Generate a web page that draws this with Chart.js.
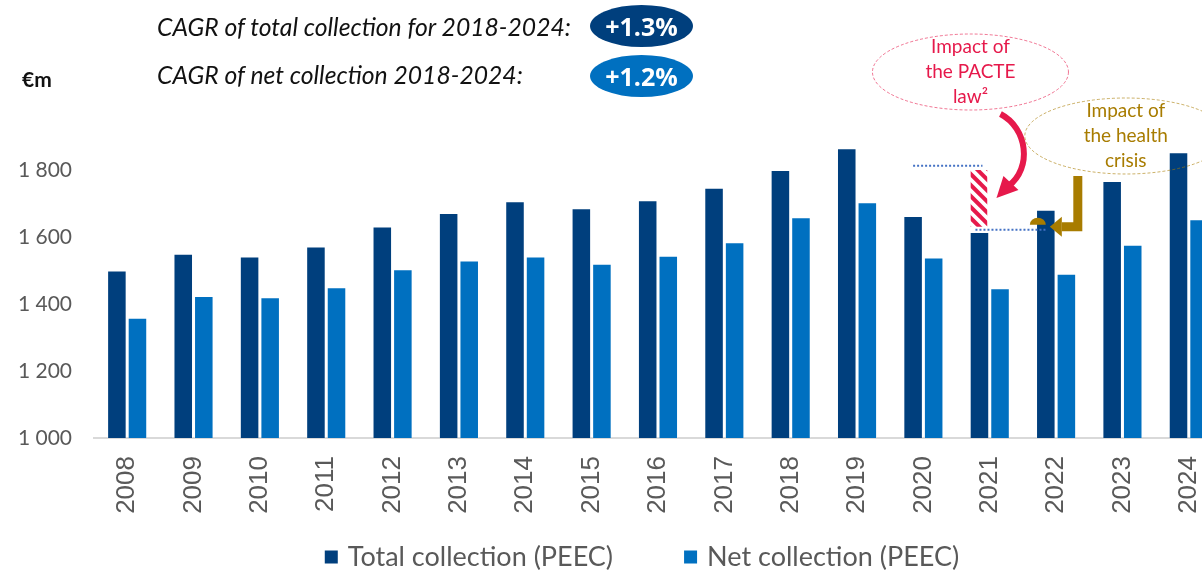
<!DOCTYPE html>
<html>
<head>
<meta charset="utf-8">
<script src="https://cdn.jsdelivr.net/npm/chart.js@4.4.1/dist/chart.umd.min.js"></script>
<style>
  body { margin: 0; width: 1202px; height: 571px; overflow: hidden; background: #fff; font-family: Lato, sans-serif; }
  #wrap { position: relative; width: 1238px; height: 571px; }
  #wrap canvas { position: absolute; left: 0; top: 0; }
  .cagr { position: absolute; left: 157px; font-style: italic; font-size: 24.7px; color: #111; white-space: nowrap; }
  .pill { position: absolute; left: 590px; width: 103px; border-radius: 50%; color: #fff; font-weight: bold;
          font-size: 25px; text-align: center; font-family: "Open Sans", sans-serif; }
  .unit { position: absolute; left: 22px; top: 66px; font-weight: bold; font-size: 21px; color: #111; }
</style>
</head>
<body>
<div id="wrap">
  <canvas id="chart" width="1238" height="571"></canvas>
  <div class="cagr" id="cagrTotal" style="top:12px"></div>
  <div class="cagr" id="cagrNet" style="top:60px"></div>
  <div class="pill" id="pillTotal" style="top:5px;height:42px;line-height:42px;background:#003F7D"></div>
  <div class="pill" id="pillNet" style="top:55px;height:42px;line-height:42px;background:#0070C0"></div>
  <div class="unit">€m</div>
</div>
<script>
// collection per year, €m
const years = ['2008', '2009', '2010', '2011', '2012', '2013', '2014', '2015', '2016',
               '2017', '2018', '2019', '2020', '2021', '2022', '2023', '2024'];
const totalCollection = [1500, 1550, 1542, 1572, 1631, 1672, 1707, 1686, 1710,
                         1747, 1800, 1865, 1663, 1615, 1681, 1767, 1853];
const netCollection = [1359, 1424, 1420, 1450, 1504, 1530, 1542, 1520, 1544,
                       1584, 1659, 1704, 1539, 1447, 1490, 1577, 1653];
const seriesNames = ['Total collection (PEEC)', 'Net collection (PEEC)'];

const cagrLabels = ['CAGR of total collection for 2018-2024:', 'CAGR of net collection 2018-2024:'];
const cagrValues = ['+1.3%', '+1.2%'];

// PACTE law callout: level without the reform, and the 2021 level it is measured against
const pacteYear = '2021';
const pacteLevel = 1813;
const pacteHatchTop = 1800;
const crisisLevel = 1622;
const pacteNote = ['Impact of', 'the PACTE', 'law²'];
const crisisNote = ['Impact of', 'the health', 'crisis'];

const dark = '#003F7D';
const light = '#0070C0';
const pink = '#E6194B';
const gold = '#A87C00';
const grey = '#595959';

document.getElementById('cagrTotal').textContent = cagrLabels[0];
document.getElementById('cagrNet').textContent = cagrLabels[1];
document.getElementById('pillTotal').textContent = cagrValues[0];
document.getElementById('pillNet').textContent = cagrValues[1];

function dottedLine(ctx, x1, x2, y) {
  ctx.save();
  ctx.strokeStyle = '#4472C4';
  ctx.lineWidth = 2;
  ctx.setLineDash([2, 2]);
  ctx.beginPath();
  ctx.moveTo(x1, y);
  ctx.lineTo(x2, y);
  ctx.stroke();
  ctx.restore();
}

function bubble(ctx, cx, cy, rx, ry, color, lines, size) {
  ctx.save();
  ctx.strokeStyle = color;
  ctx.globalAlpha = 0.6;
  ctx.lineWidth = 1;
  ctx.setLineDash([3, 2]);
  ctx.beginPath();
  ctx.ellipse(cx, cy, rx, ry, 0, 0, Math.PI * 2);
  ctx.stroke();
  ctx.globalAlpha = 1;
  ctx.fillStyle = color;
  ctx.font = size + 'px Lato';
  ctx.textAlign = 'center';
  ctx.textBaseline = 'middle';
  lines.forEach((t, i) => ctx.fillText(t, cx, cy + (i - 1) * 25));
  ctx.restore();
}

const callouts = {
  id: 'callouts',
  afterDatasetsDraw(chart) {
    const ctx = chart.ctx;
    const y = chart.scales.y;
    const bars = chart.getDatasetMeta(0).data;
    const i = years.indexOf(pacteYear);
    const prev = bars[i - 1], cur = bars[i], next = bars[i + 1];

    // reference levels
    dottedLine(ctx, prev.x, cur.x + 3, y.getPixelForValue(pacteLevel));
    dottedLine(ctx, cur.x - 4, next.x, y.getPixelForValue(crisisLevel));

    // hatched gap on top of the 2021 bar
    const hx = cur.x - cur.width / 2 + 1, hw = cur.width - 3;
    const hTop = y.getPixelForValue(pacteHatchTop), hBot = y.getPixelForValue(crisisLevel) - 3;
    ctx.save();
    ctx.beginPath();
    ctx.rect(hx, hTop, hw, hBot - hTop);
    ctx.clip();
    ctx.strokeStyle = pink;
    ctx.lineWidth = 4;
    for (let s = hTop - 20; s < hBot + 20; s += 11) {
      ctx.beginPath();
      ctx.moveTo(hx - 2, s);
      ctx.lineTo(hx + hw + 2, s + hw + 4);
      ctx.stroke();
    }
    ctx.restore();

    // small hatched mark next to the 2022 bar
    ctx.save();
    ctx.beginPath();
    ctx.ellipse(next.x - 8, y.getPixelForValue(crisisLevel) - 5, 8, 7, 0, Math.PI, Math.PI * 2);
    ctx.lineTo(next.x - 8, y.getPixelForValue(crisisLevel) - 5);
    ctx.fillStyle = gold;
    ctx.fill();
    ctx.restore();

    // curved PACTE arrow
    const ax = cur.x + 23;
    ctx.save();
    ctx.strokeStyle = pink;
    ctx.fillStyle = pink;
    ctx.lineWidth = 6;
    ctx.lineCap = 'butt';
    ctx.beginPath();
    ctx.moveTo(ax - 2, 114);
    ctx.bezierCurveTo(ax + 25, 128, ax + 30, 168, ax + 6, 186);
    ctx.stroke();
    ctx.beginPath();
    ctx.moveTo(ax - 6, 198);
    ctx.lineTo(ax + 1, 176);
    ctx.lineTo(ax + 16, 190);
    ctx.closePath();
    ctx.fill();
    ctx.restore();

    // elbow health-crisis arrow
    const cy = y.getPixelForValue(crisisLevel) - 3;
    const bx = next.x + 32;
    ctx.save();
    ctx.strokeStyle = gold;
    ctx.fillStyle = gold;
    ctx.lineWidth = 9;
    ctx.lineJoin = 'miter';
    ctx.beginPath();
    ctx.moveTo(bx, 176);
    ctx.lineTo(bx, cy);
    ctx.lineTo(next.x + 16, cy);
    ctx.stroke();
    ctx.beginPath();
    ctx.moveTo(next.x + 4, cy);
    ctx.lineTo(next.x + 16, cy - 10);
    ctx.lineTo(next.x + 16, cy + 10);
    ctx.closePath();
    ctx.fill();
    ctx.restore();

    bubble(ctx, cur.x - 9, 72, 98, 38, pink, pacteNote, 19);
    bubble(ctx, next.x + 80, 136, 101, 38, gold, crisisNote, 19);
  }
};

// legend row under the year labels, centred a bit right of the canvas middle
const bottomLegend = {
  id: 'bottomLegend',
  afterDraw(chart) {
    const ctx = chart.ctx;
    const sets = chart.data.datasets;
    const box = 13, gap = 10, between = 71, cy = 557;
    ctx.save();
    ctx.font = '27px Lato';
    ctx.textBaseline = 'middle';
    const widths = sets.map(d => box + gap + ctx.measureText(d.label).width);
    const total = widths.reduce((a, b) => a + b, 0) + between * (sets.length - 1);
    let x = 642 - total / 2;
    sets.forEach((d, k) => {
      ctx.fillStyle = d.backgroundColor;
      ctx.fillRect(x, cy - box / 2, box, box);
      ctx.fillStyle = grey;
      ctx.fillText(d.label, x + box + gap, cy);
      x += widths[k] + between;
    });
    ctx.restore();
  }
};

new Chart(document.getElementById('chart'), {
  type: 'bar',
  data: {
    labels: years,
    datasets: [
      { label: seriesNames[0], data: totalCollection, backgroundColor: dark,
        borderColor: 'rgba(255,255,255,0.3)', borderWidth: 1 },
      { label: seriesNames[1], data: netCollection, backgroundColor: light,
        borderColor: 'rgba(255,255,255,0.3)', borderWidth: 1 }
    ]
  },
  options: {
    responsive: false,
    animation: false,
    layout: { padding: { top: 103, left: 0, right: 0, bottom: 0 } },
    datasets: { bar: { categoryPercentage: 0.62, barPercentage: 0.95 } },
    plugins: {
      tooltip: { enabled: false },
      legend: { display: false }
    },
    scales: {
      x: {
        grid: { display: false, drawTicks: false },
        border: { color: '#D9D9D9', width: 2 },
        ticks: {
          color: grey, minRotation: 90, maxRotation: 90, padding: 18,
          font: { family: 'Liberation Sans', size: 26 }
        },
        afterFit(scale) { scale.height = 133; }
      },
      y: {
        min: 1000, max: 2000,
        grid: { display: false, drawTicks: false },
        border: { display: false },
        ticks: {
          stepSize: 200, padding: 22, color: grey,
          font: { family: 'Lato', size: 21 },
          callback: v => v >= 2000 ? '' : String(v).replace(/(\d)(\d{3})$/, '$1 $2')
        },
        afterFit(scale) { scale.width = 94; }
      }
    }
  },
  plugins: [callouts, bottomLegend]
});
</script>
</body>
</html>
